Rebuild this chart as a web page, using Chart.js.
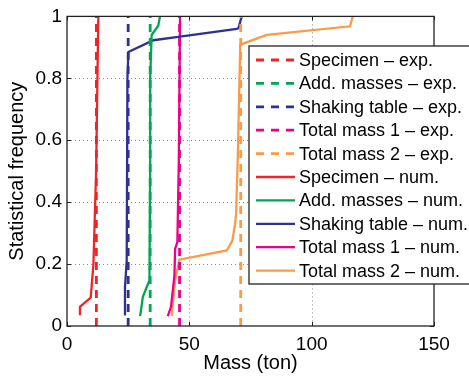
<!DOCTYPE html>
<html>
<head>
<meta charset="utf-8">
<script src="https://cdn.jsdelivr.net/npm/chart.js@4"></script>
<style>
html,body{margin:0;padding:0;background:#fff;}
#wrap{position:relative;width:469px;height:376px;}
</style>
</head>
<body>
<div id="wrap"><canvas id="c" width="469" height="376"></canvas></div>
<script>
// Series names
const seriesNames = ["Specimen", "Add. masses", "Shaking table", "Total mass 1", "Total mass 2"];
const seriesColors = ["#ee2427", "#00a650", "#2e3192", "#ec008c", "#f99b48"];

// Experimental values (ton) - vertical dashed lines
const expMass = [12, 34, 25, 46, 71];

// Numerical cumulative distributions: mass (ton) and statistical frequency
const specimenMass = [5.3, 5.3, 9.7, 10.8, 11.9, 12.8];
const specimenFreq = [0.035, 0.062, 0.092, 0.2, 0.5, 1.0];

const addMassesMass = [29.9, 31.0, 32.6, 33.7, 34.0, 34.0, 34.6, 37.3, 38.0];
const addMassesFreq = [0.032, 0.094, 0.126, 0.147, 0.53, 0.8, 0.94, 0.97, 1.0];

const shakingMass = [23.3, 23.7, 24.4, 24.7, 25.1, 35.3, 46.2, 69.4, 70.1, 71.4];
const shakingFreq = [0.038, 0.126, 0.21, 0.8, 0.885, 0.923, 0.935, 0.96, 0.962, 1.0];

const total1Mass = [41.2, 42.5, 43.9, 44.2, 45.1, 45.7, 46.2];
const total1Freq = [0.032, 0.062, 0.163, 0.25, 0.27, 0.53, 1.0];

const total2Mass = [42.8, 44.2, 45.9, 65.3, 67.6, 68.7, 69.1, 69.8, 70.8, 81.7, 115.7, 116.8];
const total2Freq = [0.032, 0.147, 0.214, 0.244, 0.276, 0.33, 0.36, 0.544, 0.909, 0.94, 0.968, 1.0];

const xTicks = [0, 50, 100, 150];
const yTicks = [0, 0.2, 0.4, 0.6, 0.8, 1];

const numSeries = [
  [specimenMass, specimenFreq],
  [addMassesMass, addMassesFreq],
  [shakingMass, shakingFreq],
  [total1Mass, total1Freq],
  [total2Mass, total2Freq]
];

const datasets = [];
seriesNames.forEach((n, i) => {
  datasets.push({
    label: n + " \u2013 exp.",
    data: [{x: expMass[i], y: 0}, {x: expMass[i], y: 1}],
    borderColor: seriesColors[i],
    borderWidth: 2.8,
    borderDash: [8, 6],
    pointRadius: 0,
    fill: false,
    tension: 0
  });
});
seriesNames.forEach((n, i) => {
  const [m, f] = numSeries[i];
  datasets.push({
    label: n + " \u2013 num.",
    data: m.map((v, k) => ({x: v, y: f[k]})),
    borderColor: seriesColors[i],
    borderWidth: 2.3,
    pointRadius: 0,
    fill: false,
    tension: 0
  });
});

const FONT = "'Liberation Sans', Arial, Helvetica, sans-serif";

const gridPlugin = {
  id: 'dottedGrid',
  beforeDatasetsDraw(chart) {
    const {ctx, chartArea: a} = chart;
    const xs = chart.scales.x, ys = chart.scales.y;
    ctx.save();
    ctx.strokeStyle = '#8a8a8a';
    ctx.lineWidth = 1;
    ctx.setLineDash([1, 3]);
    ctx.beginPath();
    xTicks.slice(1, -1).forEach(t => {
      const px = Math.round(xs.getPixelForValue(t)) + 0.5;
      ctx.moveTo(px, a.top); ctx.lineTo(px, a.bottom);
    });
    yTicks.slice(1, -1).forEach(t => {
      const py = Math.round(ys.getPixelForValue(t)) + 0.5;
      ctx.moveTo(a.left, py); ctx.lineTo(a.right, py);
    });
    ctx.stroke();
    ctx.restore();
  }
};

const boxPlugin = {
  id: 'boxAndLegend',
  afterDatasetsDraw(chart) {
    const {ctx, chartArea: a} = chart;
    const xs = chart.scales.x, ys = chart.scales.y;
    ctx.save();
    // inward ticks
    ctx.strokeStyle = '#222';
    ctx.lineWidth = 1;
    ctx.beginPath();
    xTicks.forEach(t => {
      const px = Math.round(xs.getPixelForValue(t)) + 0.5;
      ctx.moveTo(px, a.bottom); ctx.lineTo(px, a.bottom - 4);
      ctx.moveTo(px, a.top); ctx.lineTo(px, a.top + 4);
    });
    yTicks.forEach(t => {
      const py = Math.round(ys.getPixelForValue(t)) + 0.5;
      ctx.moveTo(a.left, py); ctx.lineTo(a.left + 4, py);
      ctx.moveTo(a.right, py); ctx.lineTo(a.right - 4, py);
    });
    ctx.stroke();
    // box
    ctx.strokeStyle = '#222';
    ctx.lineWidth = 1.3;
    ctx.strokeRect(a.left, a.top, a.right - a.left, a.bottom - a.top);

    // legend (box runs past the right edge of the picture, as in the reference)
    const lx = 249, ly = 46, lw = 240, lh = 238;
    ctx.fillStyle = '#fff';
    ctx.fillRect(lx, ly, lw, lh);
    ctx.strokeStyle = '#222';
    ctx.lineWidth = 1.3;
    ctx.strokeRect(lx, ly, lw, lh);
    const rowH = 23.4;
    ctx.font = '18px ' + FONT;
    ctx.textBaseline = 'middle';
    ctx.textAlign = 'left';
    chart.data.datasets.forEach((ds, i) => {
      const y = ly + 14 + i * rowH;
      ctx.beginPath();
      ctx.strokeStyle = ds.borderColor;
      ctx.lineWidth = ds.borderDash ? 2.8 : 2.3;
      ctx.setLineDash(ds.borderDash ? [8, 7] : []);
      ctx.moveTo(256, y);
      ctx.lineTo(295, y);
      ctx.stroke();
      ctx.setLineDash([]);
      ctx.fillStyle = '#000';
      ctx.fillText(ds.label, 299, y + 1);
    });
    ctx.restore();
  }
};

new Chart(document.getElementById('c'), {
  type: 'line',
  data: {datasets},
  options: {
    responsive: false,
    animation: false,
    layout: {padding: {left: 0, right: 35, top: 15, bottom: 0}},
    plugins: {legend: {display: false}, tooltip: {enabled: false}},
    scales: {
      x: {
        type: 'linear',
        min: 0, max: 150,
        afterBuildTicks: s => { s.ticks = xTicks.map(v => ({value: v})); },
        afterFit: s => { s.height = 50; },
        ticks: {color: '#000', font: {family: FONT, size: 19}, padding: 7, maxRotation: 0},
        grid: {display: false, drawTicks: false},
        border: {display: false},
        title: {display: true, text: 'Mass (ton)', color: '#000', font: {family: FONT, size: 20}, padding: {top: 0, bottom: 1}}
      },
      y: {
        type: 'linear',
        min: 0, max: 1,
        afterBuildTicks: s => { s.ticks = yTicks.map(v => ({value: v})); },
        afterFit: s => { s.width = 67; },
        ticks: {color: '#000', font: {family: FONT, size: 19}, padding: 5, callback: v => String(v)},
        grid: {display: false, drawTicks: false},
        border: {display: false},
        title: {display: true, text: 'Statistical frequency', color: '#000', font: {family: FONT, size: 20}, padding: {top: 5, bottom: 0}}
      }
    }
  },
  plugins: [gridPlugin, boxPlugin]
});
</script>
</body>
</html>
